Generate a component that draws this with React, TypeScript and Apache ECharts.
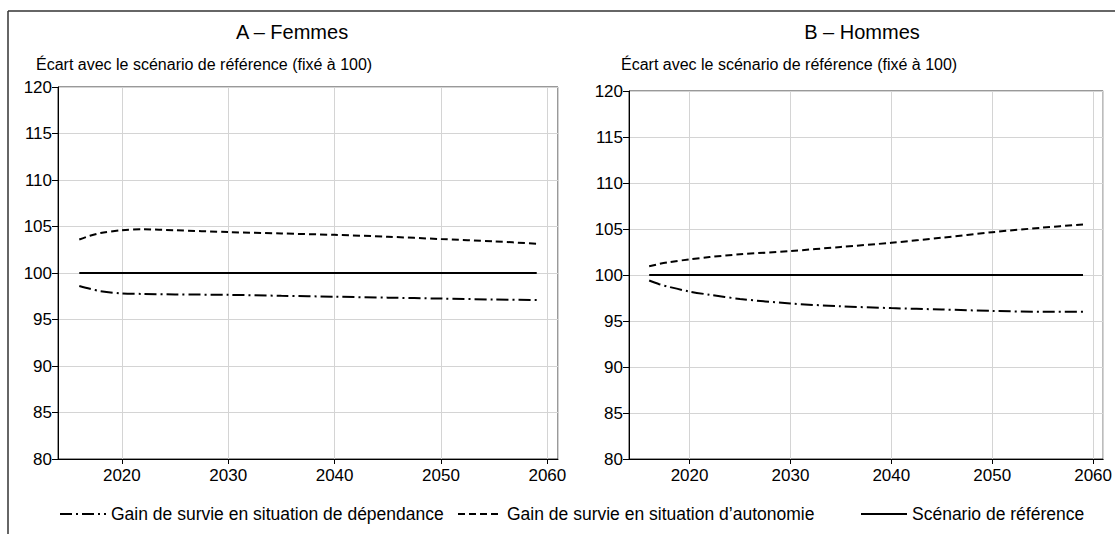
import React, { useEffect, useRef } from "react";
import * as echarts from "echarts";

const years = [2016, 2017, 2018, 2020, 2022, 2025, 2030, 2035, 2040, 2045, 2050, 2055, 2059];
const femmesAutonomie = [103.6, 104.0, 104.3, 104.6, 104.7, 104.6, 104.4, 104.25, 104.1, 103.9, 103.65, 103.4, 103.15];
const femmesDependance = [98.6, 98.3, 98.05, 97.8, 97.75, 97.7, 97.65, 97.55, 97.45, 97.35, 97.25, 97.15, 97.1];
const hommesAutonomie = [100.95, 101.2, 101.4, 101.7, 101.95, 102.25, 102.6, 103.05, 103.5, 104.05, 104.65, 105.15, 105.5];
const hommesDependance = [99.4, 99.0, 98.7, 98.2, 97.85, 97.4, 96.9, 96.6, 96.4, 96.25, 96.1, 96.0, 96.0];
const reference = [100, 100, 100, 100, 100, 100, 100, 100, 100, 100, 100, 100, 100];

const panelTitles = ["A – Femmes", "B – Hommes"];
const yAxisTitle = "Écart avec le scénario de référence (fixé à 100)";
const seriesNames = [
  "Gain de survie en situation de dépendance",
  "Gain de survie en situation d’autonomie",
  "Scénario de référence",
];

const FONT = "'Liberation Sans', Arial, sans-serif";

function pairs(vals: number[]) {
  return years.map((y, i) => [y, vals[i]]);
}

export default function App() {
  const ref = useRef<HTMLDivElement>(null);
  useEffect(() => {
    if (!ref.current) return;
    const chart = echarts.init(ref.current, undefined, { renderer: "svg" });
    const xAxisBase = (gridIndex: number) => ({
      type: "value" as const,
      gridIndex,
      min: 2014,
      max: 2061,
      splitNumber: 5,
      axisLine: { show: true, lineStyle: { color: "#000", width: 1 } },
      axisTick: { show: true, length: 5, lineStyle: { color: "#000" } },
      axisLabel: {
        color: "#000",
        fontSize: 17,
        fontFamily: FONT,
        margin: 8,
        showMinLabel: false,
        showMaxLabel: false,
        formatter: (v: number) => String(v),
      },
      splitLine: { show: true, lineStyle: { color: "#d4d4d4", width: 1 } },
    });
    const yAxisBase = (gridIndex: number) => ({
      type: "value" as const,
      gridIndex,
      min: 80,
      max: 120,
      interval: 5,
      axisLine: { show: true, lineStyle: { color: "#000", width: 1 } },
      axisTick: { show: true, length: 6, lineStyle: { color: "#000" } },
      axisLabel: { color: "#000", fontSize: 17, fontFamily: FONT, margin: 6 },
      splitLine: { show: true, lineStyle: { color: "#d4d4d4", width: 1 } },
    });
    const dashDot = [12, 4, 2, 4];
    const dashed = [7, 4];
    const mk = (name: string, data: number[], idx: number, type: any) => ({
      name,
      type: "line" as const,
      xAxisIndex: idx,
      yAxisIndex: idx,
      data: pairs(data),
      symbol: "none",
      smooth: 0.3,
      lineStyle: { color: "#000", width: 2, type },
      itemStyle: { color: "rgba(0,0,0,0)" },
    });
    const legendBase = (name: string, left: number, itemWidth: number) => ({
      data: [name],
      bottom: 6,
      left,
      itemWidth,
      itemHeight: 14,
      itemStyle: { color: "rgba(0,0,0,0)", opacity: 0 },
      textStyle: { color: "#000", fontSize: 17.5, fontFamily: FONT },
    });
    chart.setOption({
      animation: false,
      backgroundColor: "#fff",
      grid: [
        { left: 58, top: 87, width: 500, height: 372, show: true, borderColor: "#333", borderWidth: 1 },
        { left: 629, top: 91, width: 479, height: 368, show: true, borderColor: "#333", borderWidth: 1 },
      ],
      xAxis: [xAxisBase(0), xAxisBase(1)],
      yAxis: [yAxisBase(0), yAxisBase(1)],
      legend: [
        legendBase(seriesNames[0], 54, 46),
        legendBase(seriesNames[1], 452, 44),
        legendBase(seriesNames[2], 855, 46),
      ],
      graphic: [
        { type: "line", shape: { x1: 8, y1: 11, x2: 1115, y2: 11 }, style: { stroke: "#333", lineWidth: 1.5 } },
        { type: "line", shape: { x1: 8, y1: 11, x2: 8, y2: 534 }, style: { stroke: "#333", lineWidth: 1.5 } },
        { type: "text", x: 292, y: 32, style: { text: panelTitles[0], fill: "#000", fontSize: 20, fontFamily: FONT, align: "center", verticalAlign: "middle" } },
        { type: "text", x: 862, y: 32, style: { text: panelTitles[1], fill: "#000", fontSize: 20, fontFamily: FONT, align: "center", verticalAlign: "middle" } },
        { type: "text", x: 36, y: 64, style: { text: yAxisTitle, fill: "#000", fontSize: 16, fontFamily: FONT, align: "left", verticalAlign: "middle" } },
        { type: "text", x: 621, y: 64, style: { text: yAxisTitle, fill: "#000", fontSize: 16, fontFamily: FONT, align: "left", verticalAlign: "middle" } },
      ],
      series: [
        mk(seriesNames[0], femmesDependance, 0, dashDot),
        mk(seriesNames[1], femmesAutonomie, 0, dashed),
        mk(seriesNames[2], reference, 0, "solid"),
        mk(seriesNames[0], hommesDependance, 1, dashDot),
        mk(seriesNames[1], hommesAutonomie, 1, dashed),
        mk(seriesNames[2], reference, 1, "solid"),
      ],
    });
    return () => chart.dispose();
  }, []);
  return (
    <div
      ref={ref}
      style={{ position: "absolute", left: 0, top: 0, width: 1115, height: 534 }}
    />
  );
}
